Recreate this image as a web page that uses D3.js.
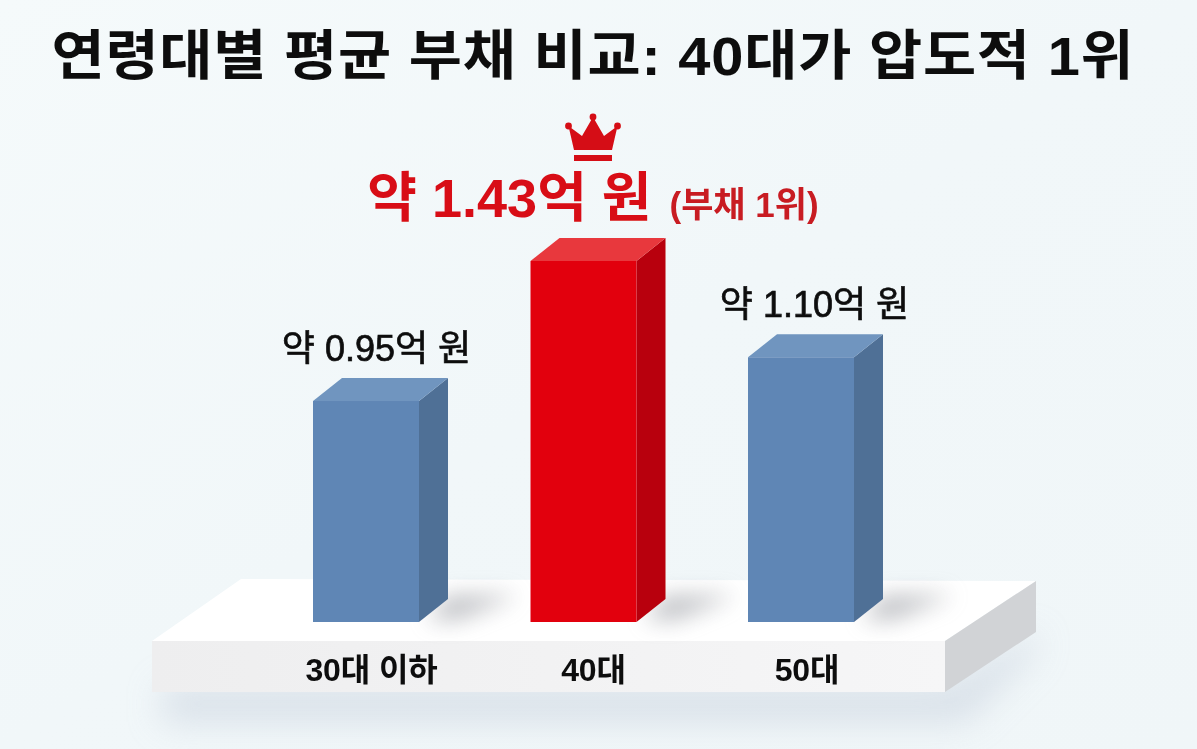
<!DOCTYPE html>
<html lang="ko"><head><meta charset="utf-8">
<script src="https://cdnjs.cloudflare.com/ajax/libs/d3/7.9.0/d3.min.js"></script>
<style>html,body{margin:0;padding:0;background:#f2f7f9}svg{display:block}
text{font-family:"Liberation Sans","Noto Sans CJK KR",sans-serif;fill:#0c0c0c}</style></head>
<body><svg id="c" width="1197" height="749"></svg>
<script>
const categories = ["30대 이하","40대","50대"];
const values = [0.95,1.43,1.10];
const valueLabels = ["약 0.95억 원","약 1.43억 원","약 1.10억 원"];
const highlightCategory = "40대";
const highlightNote = "(부채 1위)";
const titleText = "연령대별 평균 부채 비교: 40대가 압도적 1위";

const W=1197,H=749,depthX=29,depthY=23,baseY=622;
const svg=d3.select("#c");
const defs=svg.append("defs");
const bg=defs.append("linearGradient").attr("id","bg").attr("x1",0).attr("y1",0).attr("x2",1).attr("y2",1);
bg.append("stop").attr("offset",0).attr("stop-color","#f5fafb");
bg.append("stop").attr("offset",.5).attr("stop-color","#f1f7f9");
bg.append("stop").attr("offset",1).attr("stop-color","#f0f6f8");
[["b8",11],["b14",17],["soft",0.55]].forEach(([id,s])=>defs.append("filter").attr("id",id)
 .attr("x","-30%").attr("y","-100%").attr("width","160%").attr("height","300%")
 .append("feGaussianBlur").attr("stdDeviation",s));
const fg=defs.append("linearGradient").attr("id","front").attr("x1",0).attr("x2",1);
fg.append("stop").attr("offset",0).attr("stop-color","#eeeeef");
fg.append("stop").attr("offset",1).attr("stop-color","#f6f6f7");

svg.append("rect").attr("width",W).attr("height",H).attr("fill","url(#bg)");

const xs=d3.scaleBand().domain(categories).range([313-55.75,854+55.75]).paddingInner(111.5/217.5).paddingOuter(55.75/217.5);
const y=d3.scaleLinear().domain([0.1924,1.43]).range([baseY,261]);
const line=d3.line();
const poly=p=>line(p)+"Z";

// platform
const pL=xs(categories[0])-161, pR=xs(categories[2])+xs.bandwidth()+91, pT=baseY+19, pB=pT+51, pDX=91, pDY=60;
svg.append("path").attr("d",poly([[pL+10,pB-6],[pR,pB-6],[pR+pDX,pB-pDY],[pR+pDX,pB-pDY+18],[pR+20,pB+30],[pL+10,pB+30]]))
  .attr("fill","#c4cedb").attr("opacity",.55).attr("filter","url(#b14)");
svg.append("path").attr("d",poly([[pL,pT],[pR,pT],[pR+pDX,pT-pDY],[pL+89,pT-62]])).attr("fill","#ffffff");
svg.append("rect").attr("x",pL).attr("y",pT).attr("width",pR-pL).attr("height",pB-pT).attr("fill","url(#front)");
svg.append("path").attr("d",poly([[pR,pT],[pR+pDX,pT-pDY],[pR+pDX,pB-pDY],[pR,pB]])).attr("fill","#d1d3d6");

// floor shadows
svg.append("g").selectAll("path").data(categories).join("path")
 .attr("d",c=>{const r=xs(c)+xs.bandwidth();return poly([[r+8,baseY-2],[r+29,baseY-27],[r+100,baseY-27],[r+40,baseY-2]]);})
 .attr("fill","#8f9299").attr("opacity",.55).attr("filter","url(#b8)");

// bars
const cols=c=>c===highlightCategory?{f:"#e20510",s:"#b80408",t:"#e8373d"}:{f:"#5f86b5",s:"#4f6f96",t:"#6f95bf"};
const rows=categories.map((c,i)=>({c,v:values[i],lab:valueLabels[i]}));
const g=svg.append("g").attr("filter","url(#soft)").selectAll("g").data(rows).join("g");
g.append("path").attr("d",d=>{const l=xs(d.c),r=l+xs.bandwidth(),t=y(d.v);return poly([[r,t],[r+depthX,t-depthY],[r+depthX,baseY-depthY],[r,baseY]]);}).attr("fill",d=>cols(d.c).s);
g.append("path").attr("d",d=>{const l=xs(d.c),r=l+xs.bandwidth(),t=y(d.v);return poly([[l,t],[l+depthX,t-depthY],[r+depthX,t-depthY],[r,t]]);}).attr("fill",d=>cols(d.c).t);
g.append("rect").attr("x",d=>xs(d.c)).attr("y",d=>y(d.v)).attr("width",xs.bandwidth()).attr("height",d=>baseY-y(d.v)).attr("fill",d=>cols(d.c).f);

const txt=svg.append("g").attr("filter","url(#soft)");
// category labels
const catShift=[5.5,10,6];
txt.append("g").selectAll("text").data(categories).join("text")
 .attr("x",(c,i)=>xs(c)+xs.bandwidth()/2+catShift[i]).attr("y",681).attr("text-anchor","middle")
 .attr("font-size",32).attr("font-weight",700).attr("letter-spacing",-0.1).text(c=>c);

// value labels
const valShift=[10.5,0,13.5];
txt.append("g").selectAll("text").data(rows.filter(d=>d.c!==highlightCategory)).join("text")
 .attr("x",d=>xs(d.c)+xs.bandwidth()/2+valShift[categories.indexOf(d.c)]).attr("y",d=>y(d.v)-40).attr("text-anchor","middle")
 .attr("font-size",36).attr("font-weight",400).attr("stroke","#0c0c0c").attr("stroke-width",0.7).text(d=>d.lab);

// highlight label
const h=rows.find(d=>d.c===highlightCategory);
const hl=txt.append("text").attr("x",xs(h.c)+xs.bandwidth()/2+9.5).attr("y",y(h.v)-44).attr("text-anchor","middle");
hl.append("tspan").attr("font-size",54).attr("font-weight",700).text(h.lab).style("fill","#d80d16");
hl.append("tspan").attr("dx",18).attr("font-size",35).attr("font-weight",700).text(highlightNote).style("fill","#c81a20");

// crown
const cx=xs(h.c)+xs.bandwidth()/2+9.5, cb=y(h.v)-111;
const s=[[-24.5,-24],[-11,-14],[0,-33],[11,-14],[24.5,-24],[19,0],[-19,0]];
const cr=txt.append("g").attr("transform",`translate(${cx},${cb})`).attr("fill","#d50b13");
cr.append("path").attr("d",poly(s));
cr.selectAll("circle").data([s[0],s[2],s[4]]).join("circle").attr("cx",d=>d[0]).attr("cy",d=>d[1]).attr("r",3.4);
cr.append("rect").attr("x",-19).attr("y",5).attr("width",38).attr("height",6);

// title
txt.append("text").attr("transform","translate(593,75) scale(1.07,1)").attr("text-anchor","middle").attr("font-size",54).attr("font-weight",700).attr("letter-spacing",0.75).text(titleText);
</script></body></html>
